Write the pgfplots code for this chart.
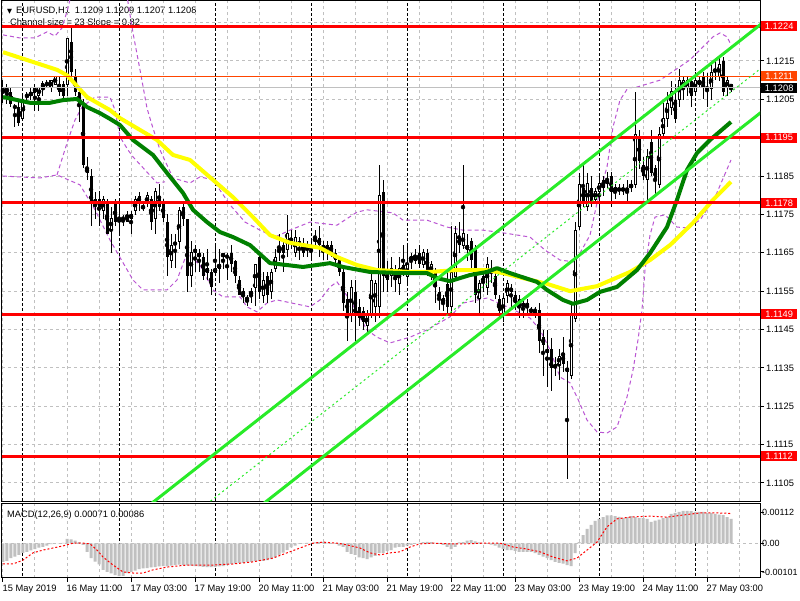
\documentclass[border=0pt]{standalone}
\usepackage{pgfplots}
\pgfplotsset{compat=1.18}
\usepackage{pgfplotstable}
\usepackage{fontspec}
\setmainfont{Liberation Sans}
\newfontfamily\symfont{DejaVu Sans}
\definecolor{mtyellow}{RGB}{255,255,0}
\definecolor{mtgreen}{RGB}{0,128,0}
\definecolor{mtlime}{RGB}{40,235,40}
\definecolor{mtpurple}{RGB}{186,85,211}
\definecolor{gridgrey}{RGB}{192,192,192}
\definecolor{histgrey}{RGB}{192,192,192}
\definecolor{mtred}{RGB}{255,0,0}
\definecolor{mtorange}{RGB}{255,69,0}
\newcommand{\lf}{\fontsize{9.3}{10}\selectfont}

\pgfplotstableread{
i o h l c
0 1.1207 1.1210 1.1204 1.1208
1 1.1207 1.1209 1.1204 1.1208
2 1.1207 1.1208 1.1203 1.1204
3 1.1203 1.1204 1.1198 1.1203
4 1.1203 1.1205 1.1198 1.1199
5 1.1200 1.1206 1.1200 1.1205
6 1.1206 1.1207 1.1205 1.1206
7 1.1206 1.1208 1.1205 1.1207
8 1.1207 1.1209 1.1202 1.1208
9 1.1206 1.1208 1.1202 1.1208
10 1.1208 1.1210 1.1206 1.1209
11 1.1209 1.1210 1.1208 1.1209
12 1.1208 1.1210 1.1207 1.1210
13 1.1209 1.1211 1.1209 1.1211
14 1.1209 1.1211 1.1206 1.1207
15 1.1209 1.1210 1.1205 1.1206
16 1.1209 1.1221 1.1206 1.1221
17 1.1220 1.1224 1.1211 1.1212
18 1.1211 1.1213 1.1206 1.1207
19 1.1207 1.1208 1.1199 1.1204
20 1.1204 1.1205 1.1187 1.1188
21 1.1187 1.1190 1.1184 1.1186
22 1.1185 1.1187 1.1172 1.1178
23 1.1179 1.1181 1.1174 1.1178
24 1.1179 1.1181 1.1172 1.1177
25 1.1176 1.1180 1.1174 1.1179
26 1.1178 1.1179 1.1170 1.1170
27 1.1171 1.1177 1.1165 1.1174
28 1.1178 1.1179 1.1172 1.1173
29 1.1174 1.1178 1.1170 1.1173
30 1.1174 1.1175 1.1172 1.1174
31 1.1175 1.1176 1.1173 1.1173
32 1.1174 1.1176 1.1170 1.1175
33 1.1176 1.1180 1.1175 1.1179
34 1.1180 1.1181 1.1176 1.1178
35 1.1177 1.1178 1.1176 1.1177
36 1.1178 1.1181 1.1177 1.1180
37 1.1179 1.1180 1.1171 1.1173
38 1.1174 1.1182 1.1170 1.1181
39 1.1180 1.1183 1.1176 1.1177
40 1.1178 1.1179 1.1173 1.1174
41 1.1173 1.1175 1.1159 1.1164
42 1.1163 1.1170 1.1161 1.1167
43 1.1168 1.1170 1.1161 1.1167
44 1.1168 1.1177 1.1166 1.1176
45 1.1177 1.1178 1.1172 1.1174
46 1.1174 1.1174 1.1155 1.1159
47 1.1159 1.1168 1.1156 1.1165
48 1.1166 1.1167 1.1160 1.1165
49 1.1164 1.1166 1.1160 1.1165
50 1.1164 1.1165 1.1158 1.1159
51 1.1160 1.1166 1.1158 1.1161
52 1.1160 1.1161 1.1154 1.1156
53 1.1160 1.1167 1.1159 1.1161
54 1.1161 1.1166 1.1157 1.1162
55 1.1164 1.1165 1.1161 1.1165
56 1.1164 1.1165 1.1158 1.1164
57 1.1165 1.1167 1.1160 1.1162
58 1.1163 1.1163 1.1157 1.1159
59 1.1158 1.1159 1.1154 1.1154
60 1.1155 1.1156 1.1152 1.1154
61 1.1153 1.1154 1.1151 1.1153
62 1.1154 1.1156 1.1152 1.1155
63 1.1156 1.1162 1.1151 1.1162
64 1.1164 1.1165 1.1153 1.1155
65 1.1154 1.1160 1.1152 1.1158
66 1.1159 1.1160 1.1152 1.1154
67 1.1155 1.1161 1.1153 1.1160
68 1.1161 1.1166 1.1160 1.1164
69 1.1165 1.1170 1.1163 1.1166
70 1.1167 1.1168 1.1160 1.1165
71 1.1166 1.1175 1.1164 1.1170
72 1.1169 1.1171 1.1166 1.1168
73 1.1165 1.1171 1.1164 1.1169
74 1.1167 1.1169 1.1163 1.1168
75 1.1167 1.1169 1.1164 1.1165
76 1.1166 1.1168 1.1164 1.1167
77 1.1166 1.1168 1.1163 1.1167
78 1.1168 1.1171 1.1167 1.1169
79 1.1169 1.1172 1.1164 1.1167
80 1.1166 1.1168 1.1163 1.1167
81 1.1167 1.1168 1.1163 1.1166
82 1.1167 1.1168 1.1164 1.1165
83 1.1165 1.1166 1.1162 1.1163
84 1.1164 1.1164 1.1159 1.1160
85 1.1160 1.1161 1.1150 1.1152
86 1.1153 1.1155 1.1142 1.1149
87 1.1149 1.1158 1.1147 1.1156
88 1.1155 1.1158 1.1142 1.1149
89 1.1151 1.1153 1.1146 1.1148
90 1.1150 1.1151 1.1145 1.1147
91 1.1146 1.1150 1.1144 1.1149
92 1.1149 1.1160 1.1148 1.1158
93 1.1151 1.1158 1.1147 1.1157
94 1.1151 1.1188 1.1148 1.1180
95 1.1181 1.1184 1.1155 1.1159
96 1.1160 1.1163 1.1155 1.1158
97 1.1159 1.1164 1.1156 1.1161
98 1.1161 1.1162 1.1155 1.1158
99 1.1157 1.1164 1.1154 1.1161
100 1.1162 1.1167 1.1159 1.1160
101 1.1159 1.1167 1.1157 1.1162
102 1.1163 1.1165 1.1161 1.1164
103 1.1163 1.1166 1.1162 1.1164
104 1.1165 1.1167 1.1161 1.1162
105 1.1162 1.1166 1.1161 1.1165
106 1.1165 1.1166 1.1159 1.1160
107 1.1160 1.1163 1.1158 1.1162
108 1.1160 1.1161 1.1152 1.1156
109 1.1155 1.1156 1.1150 1.1153
110 1.1152 1.1154 1.1150 1.1153
111 1.1157 1.1160 1.1149 1.1151
112 1.1151 1.1172 1.1149 1.1160
113 1.1159 1.1172 1.1158 1.1170
114 1.1169 1.1173 1.1165 1.1167
115 1.1167 1.1188 1.1166 1.1170
116 1.1166 1.1170 1.1163 1.1167
117 1.1168 1.1169 1.1161 1.1163
118 1.1166 1.1167 1.1152 1.1154
119 1.1153 1.1158 1.1149 1.1157
120 1.1159 1.1160 1.1155 1.1157
121 1.1156 1.1164 1.1154 1.1162
122 1.1161 1.1163 1.1157 1.1160
123 1.1159 1.1161 1.1153 1.1154
124 1.1153 1.1154 1.1148 1.1150
125 1.1149 1.1154 1.1147 1.1153
126 1.1154 1.1158 1.1152 1.1157
127 1.1156 1.1157 1.1151 1.1155
128 1.1154 1.1155 1.1150 1.1152
129 1.1153 1.1154 1.1148 1.1151
130 1.1152 1.1153 1.1148 1.1151
131 1.1152 1.1153 1.1149 1.1151
132 1.1150 1.1151 1.1149 1.1150
133 1.1150 1.1151 1.1148 1.1150
134 1.1150 1.1152 1.1139 1.1142
135 1.1143 1.1145 1.1133 1.1141
136 1.1140 1.1145 1.1130 1.1139
137 1.1140 1.1143 1.1129 1.1135
138 1.1136 1.1138 1.1133 1.1135
139 1.1136 1.1140 1.1132 1.1138
140 1.1139 1.1143 1.1134 1.1136
141 1.1135 1.1137 1.1106 1.1134
142 1.1133 1.1152 1.1132 1.1149
143 1.1148 1.1173 1.1147 1.1171
144 1.1172 1.1186 1.1171 1.1183
145 1.1182 1.1188 1.1177 1.1178
146 1.1177 1.1186 1.1176 1.1183
147 1.1182 1.1185 1.1177 1.1178
148 1.1179 1.1182 1.1178 1.1181
149 1.1181 1.1185 1.1175 1.1183
150 1.1184 1.1185 1.1180 1.1182
151 1.1183 1.1186 1.1182 1.1184
152 1.1185 1.1186 1.1177 1.1181
153 1.1181 1.1183 1.1179 1.1182
154 1.1182 1.1183 1.1180 1.1181
155 1.1182 1.1183 1.1180 1.1181
156 1.1182 1.1184 1.1178 1.1181
157 1.1182 1.1184 1.1181 1.1183
158 1.1183 1.1207 1.1182 1.1196
159 1.1195 1.1197 1.1187 1.1189
160 1.1188 1.1190 1.1184 1.1185
161 1.1184 1.1192 1.1178 1.1190
162 1.1194 1.1197 1.1185 1.1186
163 1.1187 1.1188 1.1180 1.1184
164 1.1183 1.1198 1.1182 1.1196
165 1.1196 1.1204 1.1195 1.1200
166 1.1200 1.1207 1.1198 1.1204
167 1.1203 1.1210 1.1201 1.1207
168 1.1205 1.1209 1.1199 1.1200
169 1.1205 1.1213 1.1203 1.1210
170 1.1208 1.1211 1.1205 1.1210
171 1.1208 1.1211 1.1206 1.1210
172 1.1210 1.1211 1.1203 1.1206
173 1.1207 1.1212 1.1206 1.1210
174 1.1209 1.1211 1.1208 1.1210
175 1.1211 1.1212 1.1205 1.1208
176 1.1208 1.1212 1.1203 1.1208
177 1.1208 1.1214 1.1205 1.1212
178 1.1213 1.1215 1.1210 1.1212
179 1.1211 1.1216 1.1210 1.1214
180 1.1215 1.1216 1.1206 1.1207
181 1.1208 1.1211 1.1206 1.1210
182 1.1209 1.1209 1.1207 1.1208
}\candles

\pgfplotstableread{
i v
0 -0.00053
1 -0.00050
2 -0.00042
3 -0.00038
4 -0.00033
5 -0.00027
6 -0.00024
7 -0.00020
8 -0.00016
9 -0.00012
10 -0.00010
11 -0.00006
12 -0.00002
13 0.00000
14 0.00001
15 0.00002
16 0.00013
17 0.00012
18 0.00008
19 0.00004
20 -0.00004
21 -0.00024
22 -0.00042
23 -0.00052
24 -0.00060
25 -0.00076
26 -0.00082
27 -0.00086
28 -0.00091
29 -0.00094
30 -0.00093
31 -0.00085
32 -0.00082
33 -0.00078
34 -0.00074
35 -0.00072
36 -0.00071
37 -0.00069
38 -0.00068
39 -0.00066
40 -0.00065
41 -0.00066
42 -0.00064
43 -0.00062
44 -0.00061
45 -0.00062
46 -0.00063
47 -0.00064
48 -0.00065
49 -0.00066
50 -0.00067
51 -0.00068
52 -0.00068
53 -0.00067
54 -0.00066
55 -0.00065
56 -0.00062
57 -0.00059
58 -0.00058
59 -0.00056
60 -0.00056
61 -0.00054
62 -0.00053
63 -0.00051
64 -0.00050
65 -0.00050
66 -0.00048
67 -0.00045
68 -0.00040
69 -0.00033
70 -0.00026
71 -0.00019
72 -0.00011
73 -0.00006
74 -0.00001
75 0.00001
76 0.00002
77 0.00001
78 0.00003
79 0.00004
80 0.00004
81 0.00002
82 0.00001
83 -0.00001
84 -0.00006
85 -0.00010
86 -0.00024
87 -0.00030
88 -0.00033
89 -0.00040
90 -0.00042
91 -0.00045
92 -0.00040
93 -0.00036
94 -0.00028
95 -0.00027
96 -0.00022
97 -0.00019
98 -0.00012
99 -0.00010
100 -0.00010
101 -0.00006
102 -0.00004
103 0.00001
104 0.00002
105 0.00004
106 0.00005
107 0.00004
108 0.00002
109 -0.00001
110 -0.00004
111 -0.00010
112 -0.00016
113 -0.00010
114 0.00003
115 0.00004
116 0.00008
117 0.00010
118 0.00006
119 0.00003
120 0.00002
121 0.00001
122 -0.00003
123 -0.00006
124 -0.00012
125 -0.00016
126 -0.00019
127 -0.00019
128 -0.00021
129 -0.00024
130 -0.00024
131 -0.00024
132 -0.00024
133 -0.00028
134 -0.00033
135 -0.00038
136 -0.00042
137 -0.00048
138 -0.00053
139 -0.00056
140 -0.00058
141 -0.00062
142 -0.00065
143 -0.00028
144 0.00004
145 0.00024
146 0.00042
147 0.00054
148 0.00065
149 0.00071
150 0.00076
151 0.00081
152 0.00081
153 0.00079
154 0.00077
155 0.00074
156 0.00076
157 0.00079
158 0.00076
159 0.00073
160 0.00073
161 0.00071
162 0.00062
163 0.00066
164 0.00069
165 0.00073
166 0.00076
167 0.00085
168 0.00088
169 0.00091
170 0.00094
171 0.00094
172 0.00093
173 0.00091
174 0.00091
175 0.00091
176 0.00088
177 0.00088
178 0.00085
179 0.00083
180 0.00082
181 0.00076
182 0.00071
}\macdhist

\begin{document}
\begin{tikzpicture}[x=1pt,y=1pt]
\useasboundingbox (0pt,0pt) rectangle (800pt,600pt);
\fill[white] (0pt,0pt) rectangle (800pt,600pt);
% header texts
\node[anchor=west, inner sep=0pt] at (7pt,589pt) {{\symfont\fontsize{6.5}{7}\selectfont ▼}\hspace{4pt}{\lf EURUSD,H1\hspace{5pt}1.1209 1.1209 1.1207 1.1208}};
\node[anchor=west, inner sep=0pt] at (10pt,577pt) {\lf Channel size = 23 Slope = 0.82};
\node[anchor=west, inner sep=0pt] at (7pt,85pt) {\lf MACD(12,26,9) 0.00071 0.00086};

\begin{axis}[
  at={(2pt,98.5pt)}, anchor=south west, scale only axis,
  width=758pt, height=500.5pt,
  xmin=-0.25, xmax=189.25, ymin=1.110016, ymax=1.123064,
  clip mode=individual,
  axis line style={black, line width=1pt},
  xtick={0,8,...,184}, xticklabels={}, xtick style={draw=none},
  xmajorgrids, ymajorgrids,
  major grid style={gridgrey, line width=1pt, dash pattern=on 3pt off 3pt},
  ytick={1.1105,1.1115,1.1125,1.1135,1.1145,1.1155,1.1165,1.1175,1.1185,1.1195,1.1205,1.1215,1.1225},
  yticklabels={1.1105,1.1115,1.1125,1.1135,1.1145,1.1155,1.1165,1.1175,1.1185,,1.1205,1.1215,},
  ytick pos=right, yticklabel pos=right, tick align=outside,
  major tick length=4pt,
  ytick style={black, line width=1pt},
  yticklabel style={anchor=west, font=\lf, inner sep=0pt, xshift=2pt},
  scaled y ticks=false,
]
% day separators
\foreach \s in {5,29,53,77,101,125,149,173} {
  \edef\tmp{\noexpand\addplot[black, line width=1pt, dash pattern=on 3pt off 2pt] coordinates {(\s,1.10) (\s,1.13)};}
  \tmp
}
% bands
\addplot[mtpurple, line width=1pt, dash pattern=on 4pt off 3pt] coordinates {
(0,1.12218) (4.25,1.12210) (8,1.12210) (11,1.12226) (13,1.12215) (14.75,1.12236) (16.25,1.12288) (17.25,1.12335) (24.25,1.12387) (30.75,1.12335) (32.5,1.12223) (34.25,1.12127) (36,1.12027) (37.25,1.11983) (39.25,1.11918) (42.5,1.11845) (46.75,1.11832) (49.25,1.11848) (52.5,1.11840) (56.75,1.11775) (60.5,1.11730) (64.25,1.11709) (68,1.11691) (71.75,1.11709) (76.75,1.11730) (83.5,1.11722) (88.5,1.11756) (91,1.11762) (97.5,1.11754) (100,1.11735) (106,1.11735) (111,1.11717) (115,1.11709) (120,1.11709) (125,1.11702) (131.75,1.11691) (135.5,1.11657) (139.25,1.11631) (143,1.11626) (146.75,1.11696) (148.5,1.11780) (151,1.11874) (152.5,1.11978) (154.25,1.12048) (156.25,1.12080) (158.5,1.12082) (164.25,1.12100) (171.75,1.12153) (177.5,1.12213) (179.25,1.12223) (181,1.12213) (182,1.12192)};
\addplot[mtpurple, line width=1pt, dash pattern=on 4pt off 3pt] coordinates {
(0,1.11850) (9.25,1.11845) (13.5,1.11853) (19.25,1.11827) (23,1.11762) (26.75,1.11683) (32.5,1.11579) (35,1.11553) (41,1.11553) (43.5,1.11579) (46,1.11649) (49.25,1.11618) (52.5,1.11553) (55,1.11535) (59.25,1.11535) (61,1.11509) (63.5,1.11496) (66,1.11519) (68.5,1.11527) (76.75,1.11509) (79.25,1.11527) (81.75,1.11561) (83.5,1.11574) (86.75,1.11527) (91,1.11449) (93.5,1.11430) (96.75,1.11415) (101.75,1.11430) (106,1.11449) (111.75,1.11483) (115,1.11519) (121,1.11532) (126.75,1.11506) (131.75,1.11480) (134.25,1.11449) (136.75,1.11397) (139.25,1.11326) (141.75,1.11311) (143.5,1.11274) (146,1.11214) (148.5,1.11183) (151,1.11180) (153.5,1.11196) (156,1.11274) (157.5,1.11344) (158.75,1.11423) (159.75,1.11501) (160.5,1.11605) (161.75,1.11696) (163,1.11743) (165.5,1.11749) (168.5,1.11717) (171,1.11715) (174.25,1.11735) (178,1.11795) (182,1.11892)};
\addplot[mtpurple, line width=1pt, dash pattern=on 4pt off 3pt] coordinates {
(13.5,1.11853) (16,1.11936) (18,1.11996) (19.75,1.12030) (23,1.12056) (26.75,1.12056) (28,1.12022) (29.25,1.11952) (31.25,1.11918) (32.5,1.11900) (38.5,1.11832) (40.5,1.11835)};
% candles: wicks
\addplot[only marks, mark=none, error bars/.cd, y dir=both, y explicit, error mark=none,
  error bar style={black, line width=1pt}]
  table[x=i, y expr={(\thisrow{h}+\thisrow{l})/2}, y error expr={(\thisrow{h}-\thisrow{l})/2}] {\candles};
% bearish bodies
\addplot[only marks, mark=none, restrict expr to domain={\thisrow{o}-\thisrow{c}}{0.00001:1},
  error bars/.cd, y dir=both, y explicit, error mark=none,
  error bar style={black, line width=3pt}]
  table[x=i, y expr={(\thisrow{o}+\thisrow{c})/2}, y error expr={max(abs(\thisrow{c}-\thisrow{o})/2,0.000013)}] {\candles};
% bullish bodies
\addplot[only marks, mark=none, restrict expr to domain={\thisrow{c}-\thisrow{o}}{0:1},
  error bars/.cd, y dir=both, y explicit, error mark=none,
  error bar style={black, line width=3pt}]
  table[x=i, y expr={(\thisrow{o}+\thisrow{c})/2}, y error expr={abs(\thisrow{c}-\thisrow{o})/2+0.000013}] {\candles};
\addplot[only marks, mark=none, restrict expr to domain={\thisrow{c}-\thisrow{o}}{0.00004:1},
  error bars/.cd, y dir=both, y explicit, error mark=none,
  error bar style={white, line width=1pt}]
  table[x=i, y expr={(\thisrow{o}+\thisrow{c})/2}, y error expr={abs(\thisrow{c}-\thisrow{o})/2-0.000013}] {\candles};
% moving averages
\addplot[mtyellow, line width=4pt, line join=round] coordinates {
(0,1.12173) (13.5,1.12127) (16,1.12113) (21,1.12056) (26.75,1.12022) (29.25,1.12001) (38.5,1.11944) (42.5,1.11905) (46.75,1.11892) (52.5,1.11840) (57.5,1.11795) (62.5,1.11743) (66.75,1.11696) (71.75,1.11676) (79.25,1.11663) (83.5,1.11639) (88.5,1.11618) (93.5,1.11605) (101.75,1.11600) (106.75,1.11600) (113.5,1.11605) (121,1.11605) (125,1.11597) (130,1.11584) (136,1.11569) (141.75,1.11550) (148.5,1.11563) (156.75,1.11600) (161.75,1.11631) (166.75,1.11670) (172.5,1.11728) (177.5,1.11788) (182,1.11835)};
\addplot[mtgreen, line width=4pt, line join=round] coordinates {
(0,1.12056) (6.75,1.12041) (11.75,1.12041) (15,1.12048) (18.5,1.12051) (21,1.12030) (24.25,1.12014) (26.75,1.11999) (29.25,1.11983) (32.5,1.11944) (37.5,1.11905) (41,1.11858) (45,1.11806) (47.5,1.11762) (51,1.11730) (54.25,1.11704) (57.5,1.11691) (61.75,1.11670) (66.75,1.11623) (71,1.11618) (75,1.11613) (81.75,1.11623) (85,1.11613) (91.75,1.11600) (100,1.11597) (106,1.11597) (108.5,1.11584) (111.75,1.11576) (116.75,1.11592) (121,1.11600) (123.5,1.11610) (126.75,1.11597) (133.5,1.11574) (136,1.11553) (140,1.11527) (142.5,1.11517) (146,1.11527) (149.25,1.11548) (153.5,1.11561) (158.5,1.11605) (161.75,1.11649) (166,1.11717) (168.5,1.11788) (171,1.11866) (173.5,1.11910) (176.75,1.11944) (182,1.11991)};
% horizontal levels
\addplot[gridgrey, line width=1pt] coordinates {(-1,1.1208) (190,1.1208)};
\addplot[mtorange, line width=1pt] coordinates {(-1,1.1211) (190,1.1211)};
\addplot[mtred, line width=3pt] coordinates {(-1,1.1224) (190,1.1224)};
\addplot[mtred, line width=3pt] coordinates {(-1,1.1195) (190,1.1195)};
\addplot[mtred, line width=3pt] coordinates {(-1,1.1178) (190,1.1178)};
\addplot[mtred, line width=3pt] coordinates {(-1,1.1149) (190,1.1149)};
\addplot[mtred, line width=3pt] coordinates {(-1,1.1112) (190,1.1112)};
% channel
\addplot[mtlime, line width=3pt] coordinates {(30,1.109381) (190,1.1225015)};
\addplot[mtlime, line width=3pt] coordinates {(60,1.109541) (190,1.1202015)};
\addplot[mtlime, line width=1pt, dash pattern=on 2pt off 3pt] coordinates {(45,1.109461) (190,1.1213515)};
% price boxes
\node[fill=mtred, text=white, anchor=west, inner sep=0pt, minimum width=36pt, minimum height=10pt, font=\lf, xshift=1pt] at (axis cs:189.25,1.1224) {1.1224};
\node[fill=mtred, text=white, anchor=west, inner sep=0pt, minimum width=36pt, minimum height=10pt, font=\lf, xshift=1pt] at (axis cs:189.25,1.1195) {1.1195};
\node[fill=mtred, text=white, anchor=west, inner sep=0pt, minimum width=36pt, minimum height=10pt, font=\lf, xshift=1pt] at (axis cs:189.25,1.1178) {1.1178};
\node[fill=mtred, text=white, anchor=west, inner sep=0pt, minimum width=36pt, minimum height=10pt, font=\lf, xshift=1pt] at (axis cs:189.25,1.1149) {1.1149};
\node[fill=mtred, text=white, anchor=west, inner sep=0pt, minimum width=36pt, minimum height=10pt, font=\lf, xshift=1pt] at (axis cs:189.25,1.1112) {1.1112};
\node[fill=mtorange, text=white, anchor=west, inner sep=0pt, minimum width=36pt, minimum height=10pt, font=\lf, xshift=1pt] at (axis cs:189.25,1.1211) {1.1211};
\node[fill=black, text=white, anchor=west, inner sep=0pt, minimum width=36pt, minimum height=10pt, font=\lf, xshift=1pt] at (axis cs:189.25,1.1208) {1.1208};
\end{axis}

\begin{axis}[
  at={(2pt,22pt)}, anchor=south west, scale only axis,
  width=758pt, height=74pt,
  xmin=-0.25, xmax=189.25, ymin=-0.000994, ymax=0.001138,
  clip mode=individual,
  axis line style={black, line width=1pt},
  xtick={0,16,...,176},
  xticklabels={15 May 2019,16 May 11:00,17 May 03:00,17 May 19:00,20 May 11:00,21 May 03:00,21 May 19:00,22 May 11:00,23 May 03:00,23 May 19:00,24 May 11:00,27 May 03:00},
  minor xtick={8,24,...,184},
  xmajorgrids, xminorgrids,
  major grid style={gridgrey, line width=1pt, dash pattern=on 3pt off 3pt},
  minor grid style={gridgrey, line width=1pt, dash pattern=on 3pt off 3pt},
  xtick pos=bottom, ytick pos=right, yticklabel pos=right, tick align=outside,
  major tick length=4pt, minor tick length=0pt,
  tick style={black, line width=1pt},
  xticklabel style={anchor=north west, font=\lf, inner sep=0pt, yshift=-3pt, xshift=-0.5pt},
  ytick={-0.00082,0,0.00089},
  yticklabels={-0.00101,0.00,0.00112},
  yticklabel style={anchor=west, font=\fontsize{9}{10}\selectfont, inner sep=0pt, xshift=-2pt},
  scaled y ticks=false,
]
\addplot[gridgrey, line width=1pt, dash pattern=on 3pt off 3pt] coordinates {(-1,0) (190,0)};
\foreach \s in {5,29,53,77,101,125,149,173} {
  \edef\tmp{\noexpand\addplot[black, line width=1pt, dash pattern=on 3pt off 2pt] coordinates {(\s,-0.01) (\s,0.01)};}
  \tmp
}
\addplot[ybar, bar width=3pt, fill=histgrey, draw=none] table[x=i, y=v] {\macdhist};
\addplot[mtred, line width=1pt, dash pattern=on 2pt off 2pt] coordinates {
(0,-0.00059) (2.5,-0.00059) (5,-0.00048) (7.5,-0.00027) (10,-0.00019) (12.5,-0.00013) (15,-0.00007) (17.5,0.00001) (20,0.00001) (21.75,-0.00001) (23.5,-0.00019) (25,-0.00039) (27.5,-0.00062) (30,-0.00082) (32.5,-0.00085) (35,-0.00085) (37.5,-0.00076) (41,-0.00068) (46,-0.00062) (52.5,-0.00062) (57.5,-0.00059) (62.5,-0.00053) (67.5,-0.00042) (71,-0.00027) (74.25,-0.00013) (77.5,0.00001) (80,0.00004) (83.5,0.00001) (86,-0.00004) (89.25,-0.00013) (91.75,-0.00027) (94.25,-0.00033) (96.75,-0.00027) (99.25,-0.00024) (101.75,-0.0001) (104.25,-0.00001) (107.5,0.00001) (111.75,-0.00001) (116,-0.00001) (120,0.00001) (124.25,0.00001) (127.5,-0.0001) (131,-0.00016) (134.25,-0.00024) (137.5,-0.00039) (141,-0.0005) (143.5,-0.00042) (146,-0.00019) (148.5,0.00004) (151,0.00048) (153.5,0.00071) (156.75,0.00076) (161.75,0.00079) (166,0.00076) (170,0.00082) (174.25,0.00088) (178.5,0.00088) (181.25,0.00087) (182,0.00086)};
\end{axis}
\end{tikzpicture}
\end{document}
